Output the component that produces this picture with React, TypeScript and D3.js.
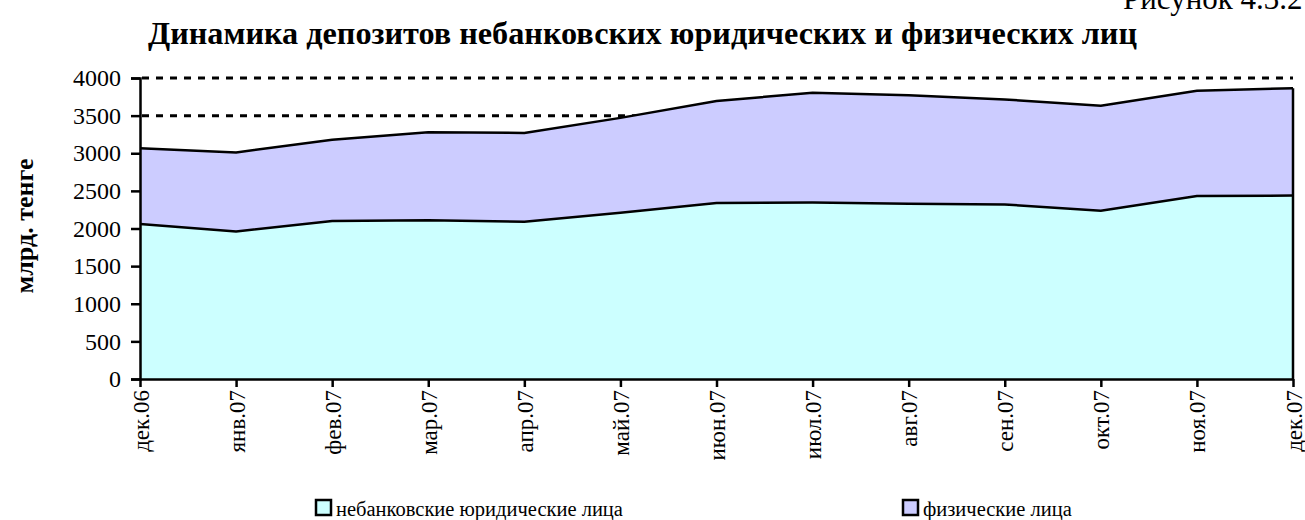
import React, { useEffect, useRef } from 'react';
import * as d3 from 'd3';

const months = [
  'дек.06', 'янв.07', 'фев.07', 'мар.07', 'апр.07', 'май.07', 'июн.07',
  'июл.07', 'авг.07', 'сен.07', 'окт.07', 'ноя.07', 'дек.07',
];
// небанковские юридические лица
const legalEntities = [2060, 1960, 2100, 2110, 2090, 2210, 2340, 2345, 2330, 2320, 2237, 2432, 2438];
// физические лица
const individuals = [1008, 1050, 1080, 1170, 1180, 1260, 1355, 1458, 1440, 1395, 1393, 1400, 1427];
const yTicks = [0, 500, 1000, 1500, 2000, 2500, 3000, 3500, 4000];
const seriesNames = ['небанковские юридические лица', 'физические лица'];
const seriesColors = ['#ccffff', '#ccccff'];

const W = 1305;
const H = 520;
const FONT = '"Liberation Serif", "Times New Roman", serif';

export default function App() {
  const ref = useRef<SVGSVGElement>(null);

  useEffect(() => {
    if (!ref.current) return;
    const svg = d3.select(ref.current);
    svg.selectAll('*').remove();

    const left = 140, right = 1293, top = 78, bottom = 379;

    const x = d3.scalePoint<string>().domain(months).range([left, right]);
    const y = d3.scaleLinear().domain([0, 4000]).range([bottom, top]);

    // caption (cut at the top edge, as on the page) and title
    svg.append('text')
      .attr('x', 1123).attr('y', 9)
      .attr('font-family', FONT).attr('font-size', 31)
      .text('Рисунок 4.3.2');
    svg.append('text')
      .attr('x', 148).attr('y', 44)
      .attr('font-family', FONT).attr('font-size', 31.5).attr('font-weight', 'bold')
      .attr('textLength', 989).attr('lengthAdjust', 'spacingAndGlyphs')
      .text('Динамика депозитов небанковских юридических и физических лиц');

    // dashed gridlines (hidden under the areas except at the top)
    svg.append('g')
      .selectAll('line')
      .data(yTicks.filter((d) => d > 0))
      .enter()
      .append('line')
      .attr('x1', left + 2).attr('x2', right)
      .attr('y1', (d) => y(d)).attr('y2', (d) => y(d))
      .attr('stroke', '#000').attr('stroke-width', 3)
      .attr('stroke-dasharray', '7,7');

    const rows = months.map((m, i) => ({ m, a: legalEntities[i], b: individuals[i] }));
    const stacked = d3.stack<any>().keys(['a', 'b'])(rows);

    const area = d3.area<any>()
      .x((d) => x(d.data.m) as number)
      .y0((d) => y(d[0]))
      .y1((d) => y(d[1]));
    const line = d3.line<any>()
      .x((d) => x(d.data.m) as number)
      .y((d) => y(d[1]));

    stacked.forEach((s, i) => {
      svg.append('path').attr('d', area(s)).attr('fill', seriesColors[i]);
    });
    stacked.forEach((s) => {
      svg.append('path').attr('d', line(s))
        .attr('fill', 'none').attr('stroke', '#000').attr('stroke-width', 2.5);
    });
    // right edge of the area
    const last = stacked[1][stacked[1].length - 1];
    svg.append('line')
      .attr('x1', right).attr('x2', right)
      .attr('y1', y(last[1])).attr('y2', bottom)
      .attr('stroke', '#000').attr('stroke-width', 2.5);

    // y axis
    const gy = svg.append('g')
      .attr('transform', `translate(${left},0)`)
      .call(d3.axisLeft(y).tickValues(yTicks).tickSize(9).tickPadding(10).tickFormat(d3.format('d')));
    gy.select('.domain').attr('stroke-width', 2.5);
    gy.selectAll('.tick line').attr('stroke-width', 2.5);
    gy.selectAll('text').attr('font-family', FONT).attr('font-size', 24).attr('fill', '#000');

    // x axis
    const gx = svg.append('g')
      .attr('transform', `translate(0,${bottom})`)
      .call(d3.axisBottom(x).tickSize(8).tickSizeOuter(0));
    gx.select('.domain').attr('stroke-width', 2.5);
    gx.selectAll('.tick line').attr('stroke-width', 2.5);
    gx.selectAll('text')
      .attr('font-family', FONT).attr('font-size', 23).attr('fill', '#000')
      .attr('transform', 'rotate(-90)')
      .attr('text-anchor', 'end')
      .attr('x', -11).attr('y', 0).attr('dy', '0.35em');

    // y title
    svg.append('text')
      .attr('transform', 'translate(33,226) rotate(-90)')
      .attr('text-anchor', 'middle')
      .attr('font-family', FONT).attr('font-size', 26).attr('font-weight', 'bold')
      .text('млрд. тенге');

    // legend
    const legendX = [315, 902];
    seriesNames.forEach((name, i) => {
      const g = svg.append('g').attr('transform', `translate(${legendX[i]},499)`);
      g.append('rect').attr('x', 1).attr('y', 1).attr('width', 15).attr('height', 15)
        .attr('fill', seriesColors[i]).attr('stroke', '#000').attr('stroke-width', 2.5);
      g.append('text').attr('x', 21).attr('y', 17)
        .attr('font-family', FONT).attr('font-size', 20.5)
        .text(name);
    });
  }, []);

  return (
    <svg ref={ref} width={W} height={H}
      style={{ position: 'absolute', left: 0, top: 0, background: '#fff' }} />
  );
}
